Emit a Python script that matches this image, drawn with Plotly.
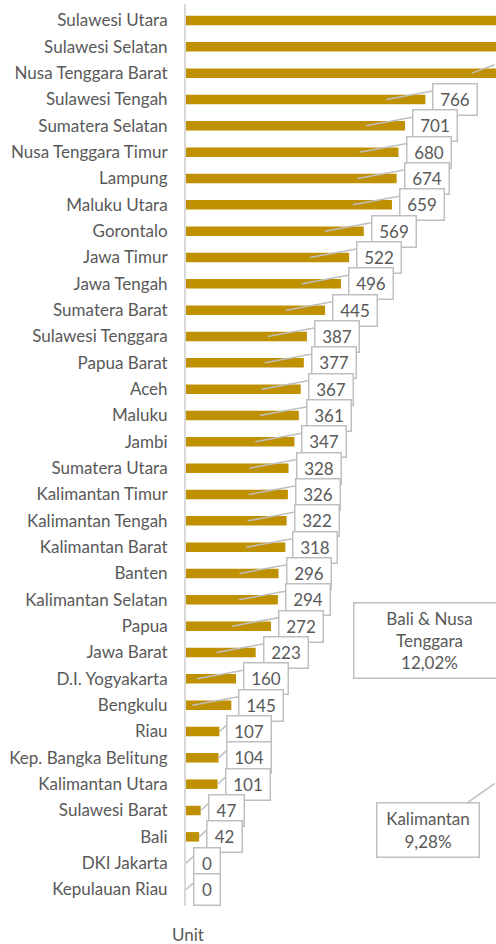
"""Horizontal bar chart of units per province with callout labels."""

import plotly.graph_objects as go

provinces = [
    "Sulawesi Utara", "Sulawesi Selatan", "Nusa Tenggara Barat", "Sulawesi Tengah",
    "Sumatera Selatan", "Nusa Tenggara Timur", "Lampung", "Maluku Utara", "Gorontalo",
    "Jawa Timur", "Jawa Tengah", "Sumatera Barat", "Sulawesi Tenggara", "Papua Barat",
    "Aceh", "Maluku", "Jambi", "Sumatera Utara", "Kalimantan Timur", "Kalimantan Tengah",
    "Kalimantan Barat", "Banten", "Kalimantan Selatan", "Papua", "Jawa Barat",
    "D.I. Yogyakarta", "Bengkulu", "Riau", "Kep. Bangka Belitung", "Kalimantan Utara",
    "Sulawesi Barat", "Bali", "DKI Jakarta", "Kepulauan Riau",
]
units = [
    1230, 1150, 1040, 766,
    701, 680, 674, 659, 569,
    522, 496, 445, 387, 377,
    367, 361, 347, 328, 326, 322,
    318, 296, 294, 272, 223,
    160, 145, 107, 104, 101,
    47, 42, 0, 0,
]

region_labels = ["Bali & Nusa<br>Tenggara<br>12,02%", "Kalimantan<br>9,28%"]

BAR_COLOR = "#BF9000"
TEXT_COLOR = "#595959"
BOX_LINE = "#BFBFBF"
FONT = "Lato"
FONT_SIZE = 17

X_MAX = 992
PLOT_W = 310
PX = PLOT_W / X_MAX

fig = go.Figure(
    go.Bar(
        x=units,
        y=provinces,
        orientation="h",
        marker_color=BAR_COLOR,
        marker_line_width=0,
        hoverinfo="skip",
    )
)

# callout wedges first, so the boxes sit on top of them
for name, val in zip(provinces, units):
    tip = val - 125 if val > 140 else val
    fig.add_annotation(
        x=tip, y=name, xref="x", yref="y", text="",
        showarrow=True, arrowhead=0, arrowwidth=1.5, arrowcolor=BOX_LINE,
        ax=(val - tip) * PX + 10, ay=-9,
    )

for name, val in zip(provinces, units):
    label = str(val)
    fig.add_annotation(
        x=val, y=name, xref="x", yref="y", text=label,
        showarrow=False, xanchor="left", xshift=7,
        font=dict(family=FONT, size=FONT_SIZE, color=TEXT_COLOR),
        bgcolor="white", bordercolor=BOX_LINE, borderwidth=1.5, borderpad=4,
        width=9 * len(label) + 8, height=22,
    )

fig.add_annotation(
    x=0.787, y=0.294, xref="paper", yref="paper", text=region_labels[0],
    showarrow=False, xanchor="center", yanchor="middle",
    font=dict(family=FONT, size=FONT_SIZE, color=TEXT_COLOR),
    bgcolor="white", bordercolor=BOX_LINE, borderwidth=1.5, borderpad=4,
    width=142, height=66,
)
fig.add_annotation(
    x=1.077, y=0.136, xref="paper", yref="paper", text=region_labels[1],
    showarrow=True, arrowhead=0, arrowwidth=1.5, arrowcolor=BOX_LINE,
    ax=-92, ay=47,
    font=dict(family=FONT, size=FONT_SIZE, color=TEXT_COLOR),
    bgcolor="white", bordercolor=BOX_LINE, borderwidth=1.5, borderpad=4,
    width=93, height=45,
)

fig.add_annotation(
    x=0.006, y=-0.032, xref="paper", yref="paper", text="Unit",
    showarrow=False, xanchor="center", yanchor="middle",
    font=dict(family=FONT, size=FONT_SIZE, color=TEXT_COLOR),
)

fig.update_layout(
    width=496,
    height=944,
    margin=dict(l=186, r=0, t=4, b=38),
    plot_bgcolor="white",
    paper_bgcolor="white",
    bargap=0.64,
    showlegend=False,
    hovermode=False,
    font=dict(family=FONT, size=FONT_SIZE, color=TEXT_COLOR),
)
fig.update_xaxes(range=[0, X_MAX], showticklabels=False, showgrid=False, zeroline=False, showline=False)
fig.update_yaxes(
    autorange="reversed",
    showline=True, linecolor="#D9D9D9", linewidth=2,
    showgrid=False, ticks="", ticklabelstandoff=13,
    tickfont=dict(family=FONT, size=FONT_SIZE, color=TEXT_COLOR),
)

# the page body has a default 8px margin; drop it so the figure fills the window
fig.write_html(
    "out.html",
    config={"displayModeBar": False},
    post_script="document.body.style.margin = '0';",
)
